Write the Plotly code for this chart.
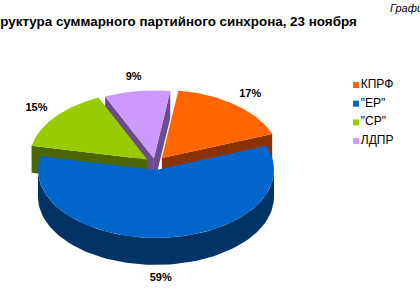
import math
import plotly.graph_objects as go

# ---- data ----
categories = ["КПРФ", "\"ЕР\"", "\"СР\"", "ЛДПР"]
values = [17, 59, 15, 9]
labels = ["17%", "59%", "15%", "9%"]
title_text = "Структура суммарного партийного синхрона, 23 ноября"
corner_text = "График"

# ---- styles ----
top_colors = ["#FF6600", "#0066CC", "#99CC00", "#CC99FF"]
side_colors = ["#8B3300", "#003366", "#4C6600", "#6B4C8F"]
pulls = [11, 12, 10, 8]

CX, CY, A, B, D = 155, 163, 118, 68, 27
START = 82.0
FONT = "Liberation Sans, Arial, sans-serif"

total = sum(values)
slices = []
ang = START
for i, v in enumerate(values):
    span = 360.0 * v / total
    t1, t2 = ang, ang - span
    mid = (t1 + t2) / 2
    dx = pulls[i] * math.cos(math.radians(mid))
    dy = -pulls[i] * math.sin(math.radians(mid)) * (B / A)
    slices.append(dict(i=i, t1=t1, t2=t2, mid=mid, dx=dx, dy=dy))
    ang = t2


def pt(s, th, z=0.0, r=1.0):
    rad = math.radians(th)
    return (CX + s["dx"] + A * r * math.cos(rad), CY + s["dy"] - B * r * math.sin(rad) + z)


def arc(s, a, b, z=0.0, n=80):
    return [pt(s, a + (b - a) * k / n, z) for k in range(n + 1)]


fig = go.Figure()


def poly(points, color):
    xs = [p[0] for p in points] + [points[0][0]]
    ys = [p[1] for p in points] + [points[0][1]]
    fig.add_trace(go.Scatter(x=xs, y=ys, mode="lines", fill="toself",
                             fillcolor=color, line=dict(width=0, color=color),
                             hoverinfo="skip", showlegend=False))


def draw_slice(s):
    i = s["i"]
    apex = (CX + s["dx"], CY + s["dy"])
    apex_b = (apex[0], apex[1] + D)
    # radial cut faces
    for th, nrm in ((s["t1"], s["t1"] + 90), (s["t2"], s["t2"] - 90)):
        if math.sin(math.radians(nrm)) < -1e-6:
            rim = pt(s, th)
            rim_b = pt(s, th, D)
            poly([apex, rim, rim_b, apex_b], side_colors[i])
    # outer wall (front half only)
    for k in range(-2, 2):
        lo, hi = -180 + 360 * k, 0 + 360 * k
        a = min(s["t1"], hi)
        b = max(s["t2"], lo)
        if a > b:
            top = arc(s, a, b)
            bot = arc(s, b, a, D)
            poly(top + bot, side_colors[i])
    # top face
    poly([apex] + arc(s, s["t1"], s["t2"]), top_colors[i])


# painter's order: back slices first, front slice last
order = [slices[3], slices[2], slices[0], slices[1]]
for s in order:
    draw_slice(s)

# percentage labels
lx, ly = [], []
for s in slices:
    x, y = pt(s, s["mid"], r=1.2)
    if math.sin(math.radians(s["mid"])) < 0:
        y += D
        x -= s["dx"] + A * 1.2 * math.cos(math.radians(s["mid"])) * 0.5
    lx.append(x)
    ly.append(y)
fig.add_trace(go.Scatter(x=lx, y=ly, mode="text", text=labels,
                         textfont=dict(family=FONT, size=11, color="#000000"),
                         texttemplate="<b>%{text}</b>",
                         hoverinfo="skip", showlegend=False))

# legend (manual)
fig.add_trace(go.Scatter(
    x=[356] * len(categories), y=[85 + 18.7 * k for k in range(len(categories))],
    mode="markers+text", text=categories, textposition="middle right",
    marker=dict(symbol="square", size=6, color=top_colors, line=dict(width=0)),
    textfont=dict(family=FONT, size=12, color="#000000"),
    hoverinfo="skip", showlegend=False))

fig.add_annotation(x=359, y=21, xref="x", yref="y", text="<b>" + title_text + "</b>",
                   showarrow=False, xanchor="right", yanchor="middle",
                   font=dict(family=FONT, size=13.4, color="#000000"))
fig.add_annotation(x=388, y=8, xref="x", yref="y", text="<i>" + corner_text + "</i>",
                   showarrow=False, xanchor="left", yanchor="middle",
                   font=dict(family=FONT, size=11, color="#000000"))

fig.update_layout(
    width=420, height=300, margin=dict(l=0, r=0, t=0, b=0),
    paper_bgcolor="white", plot_bgcolor="white", showlegend=False,
    xaxis=dict(range=[0, 420], visible=False, fixedrange=True),
    yaxis=dict(range=[300, 0], visible=False, fixedrange=True),
)
fig.write_html("out.html")
